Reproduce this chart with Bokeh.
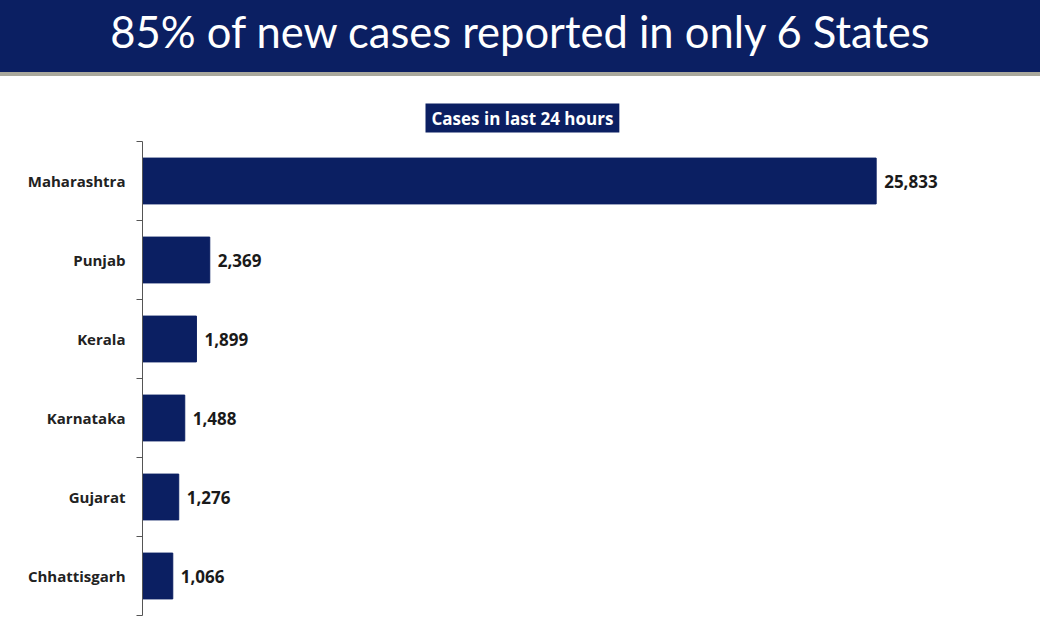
from bokeh.plotting import figure
from bokeh.models import (Range1d, FactorRange, LinearAxis, CategoricalAxis,
                          FixedTicker, ColumnDataSource, Title, Div)
from bokeh.layouts import column
from bokeh.embed import file_html
from bokeh.resources import INLINE
from bokeh.core.properties import value

# ---- data ----
states = ["Maharashtra", "Punjab", "Kerala", "Karnataka", "Gujarat", "Chhattisgarh"]
cases = [25833, 2369, 1899, 1488, 1276, 1066]
labels = [f"{v:,}" for v in cases]
title_text = "85% of new cases reported in only 6 States"
subtitle_text = "Cases in last 24 hours"

NAVY = "#0b1f62"
FONT = "Open Sans"

header = Div(text=title_text, width=1040, height=76, margin=0,
             styles={"background-color": NAVY, "color": "white", "font-family": "Lato",
                     "font-size": "43.5px", "text-align": "center", "line-height": "62px",
                     "border-bottom": "4px solid #a9a89c", "box-sizing": "border-box",
                     "white-space": "nowrap"})

src = ColumnDataSource(dict(state=states, cases=cases, label=labels))

p = figure(width=1040, height=554, output_backend="svg", toolbar_location=None,
           y_range=FactorRange(factors=list(reversed(states))),
           x_range=Range1d(0, 30000),
           y_axis_location=None, x_axis_location=None,
           min_border_left=142, min_border_right=46, min_border_top=65, min_border_bottom=15,
           outline_line_color=None, background_fill_color="white", border_fill_color="white")
p.grid.visible = False

p.hbar(y="state", right="cases", left=0, height=0.58, source=src,
       fill_color=NAVY, line_color=NAVY)
p.text(x="cases", y="state", text="label", source=src, x_offset=8,
       text_baseline="middle", text_align="left",
       text_font=value(FONT), text_font_style="bold", text_font_size="17px",
       text_color="#1a1a1a")

# axis with ticks at category boundaries (synthetic coordinates 0..n)
tick_axis = LinearAxis(ticker=FixedTicker(ticks=list(range(len(states) + 1)), minor_ticks=[]),
                       major_tick_out=6, major_tick_in=0, major_label_standoff=0,
                       major_label_overrides={i: "" for i in range(len(states) + 1)},
                       axis_line_color="#555555", major_tick_line_color="#555555",
                       minor_tick_line_color=None)
p.add_layout(tick_axis, "left")

cat_axis = CategoricalAxis(axis_line_color=None, major_tick_line_color=None,
                           major_tick_out=0, major_tick_in=0, major_label_standoff=11,
                           major_label_text_font=FONT, major_label_text_font_style="bold",
                           major_label_text_font_size="15px", major_label_text_color="#222222")
p.add_layout(cat_axis, "left")

p.add_layout(Title(text=subtitle_text, align="left", offset=283,
                   text_font=FONT, text_font_style="bold", text_font_size="17px",
                   text_color="white", background_fill_color=NAVY,
                   padding=dict(left=6, right=6, top=3, bottom=3),
                   standoff=18), "above")

layout = column(header, p, spacing=0)
open("out.html", "w").write(file_html(layout, INLINE))
